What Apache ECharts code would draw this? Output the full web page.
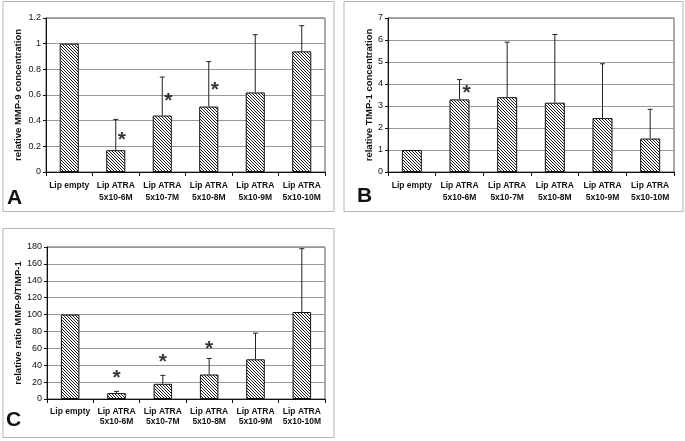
<!DOCTYPE html>
<html>
<head>
<meta charset="utf-8">
<script src="https://cdn.jsdelivr.net/npm/echarts@6/dist/echarts.min.js"></script>
<style>
html,body{margin:0;padding:0;background:#fff;}
#chart{width:685px;height:441px;}
</style>
</head>
<body>
<div id="chart"></div>
<script>
var categories = ['Lip empty', 'Lip ATRA\n5x10-6M', 'Lip ATRA\n5x10-7M', 'Lip ATRA\n5x10-8M', 'Lip ATRA\n5x10-9M', 'Lip ATRA\n5x10-10M'];
var mmp9 = [1.0, 0.17, 0.44, 0.51, 0.62, 0.94];
var mmp9ErrTop = [null, 0.41, 0.74, 0.86, 1.07, 1.14];
var mmp9Star = [null, 0.29, 0.59, 0.68, null, null];
var timp1 = [1.0, 3.3, 3.4, 3.15, 2.45, 1.52];
var timp1ErrTop = [null, 4.2, 5.9, 6.25, 4.92, 2.85];
var timp1Star = [null, 3.82, null, null, null, null];
var ratio = [100, 7, 18, 29, 47, 103];
var ratioErrTop = [null, 9, 28, 48, 78, 178];
var ratioStar = [null, 30, 49, 65, null, null];
var yTitles = ['relative MMP-9 concentration', 'relative TIMP-1 concentration', 'relative ratio MMP-9/TIMP-1'];
var panelLetters = ['A', 'B', 'C'];

var FONT = '"Liberation Sans", Arial, sans-serif';

// hatch pattern (diagonal "\" lines, 3px apart)
var pc = document.createElement('canvas');
pc.width = 6; pc.height = 6;
var g = pc.getContext('2d');
g.fillStyle = '#fff'; g.fillRect(0, 0, 6, 6);
g.strokeStyle = '#1a1a1a'; g.lineWidth = 1;
g.beginPath();
for (var k = -6; k <= 6; k += 3) { g.moveTo(k - 1, -1); g.lineTo(k + 7, 7); }
g.stroke();
var hatch = { image: pc, repeat: 'repeat' };

function errData(vals, tops) {
  var out = [];
  for (var i = 0; i < vals.length; i++) {
    if (tops[i] != null) out.push([i, vals[i], tops[i]]);
  }
  return out;
}
function starData(stars) {
  var out = [];
  for (var i = 0; i < stars.length; i++) {
    if (stars[i] != null) out.push([i, stars[i]]);
  }
  return out;
}
function renderErr(params, api) {
  var x = api.value(0), lo = api.value(1), hi = api.value(2);
  var p1 = api.coord([x, lo]), p2 = api.coord([x, hi]);
  var st = { stroke: '#222', lineWidth: 1 };
  return { type: 'group', children: [
    { type: 'line', shape: { x1: p1[0], y1: p1[1], x2: p2[0], y2: p2[1] }, style: st },
    { type: 'line', shape: { x1: p2[0] - 2.5, y1: p2[1], x2: p2[0] + 2.5, y2: p2[1] }, style: st }
  ]};
}

var grids = [
  { left: 46, top: 18, width: 279, height: 154 },
  { left: 388, top: 18, width: 286, height: 154 },
  { left: 47, top: 247, width: 278, height: 152 }
];
var yCfg = [
  { max: 1.2, interval: 0.2, gap: 23 },
  { max: 7, interval: 1, gap: 14 },
  { max: 180, interval: 20, gap: 24 }
];
var lineHeights = [12.5, 12.5, 10.5];
var barWidths = ['41%', '42%', '40%'];
var starOffsets = [6, 7, 0];
var values = [mmp9, timp1, ratio];
var tops = [mmp9ErrTop, timp1ErrTop, ratioErrTop];
var stars = [mmp9Star, timp1Star, ratioStar];

var option = {
  animation: false,
  backgroundColor: '#fff',
  grid: grids.map(function (gr) {
    return Object.assign({ show: true, borderColor: '#555', borderWidth: 1, backgroundColor: 'transparent' }, gr);
  }),
  xAxis: grids.map(function (gr, i) {
    return {
      type: 'category', gridIndex: i, data: categories,
      axisLine: { lineStyle: { color: '#111', width: 1 } },
      axisTick: { show: true, length: 4, lineStyle: { color: '#111' } },
      axisLabel: { interval: 0, fontFamily: FONT, fontSize: 8.5, fontWeight: 'bold', color: '#111', margin: 7, lineHeight: lineHeights[i] }
    };
  }),
  yAxis: grids.map(function (gr, i) {
    return {
      type: 'value', gridIndex: i, min: 0, max: yCfg[i].max, interval: yCfg[i].interval,
      name: yTitles[i], nameLocation: 'middle', nameRotate: 90, nameGap: yCfg[i].gap,
      nameTextStyle: { fontFamily: FONT, fontSize: 9.5, fontWeight: 'bold', color: '#111' },
      axisLine: { show: true, lineStyle: { color: '#111', width: 1 } },
      axisTick: { show: true, length: 3, lineStyle: { color: '#111' } },
      axisLabel: { fontFamily: FONT, fontSize: 9, color: '#111', margin: 5 },
      splitLine: { show: true, lineStyle: { color: '#999', width: 1 } }
    };
  }),
  series: [],
  graphic: [
    { type: 'rect', shape: { x: 3, y: 1.5, width: 331, height: 210 }, style: { fill: 'none', stroke: '#b5b5b5', lineWidth: 1 }, z: -1 },
    { type: 'rect', shape: { x: 344, y: 1.5, width: 339, height: 210 }, style: { fill: 'none', stroke: '#b5b5b5', lineWidth: 1 }, z: -1 },
    { type: 'rect', shape: { x: 3, y: 228.5, width: 331, height: 209 }, style: { fill: 'none', stroke: '#b5b5b5', lineWidth: 1 }, z: -1 },
    { type: 'text', left: 7, top: 188, style: { text: panelLetters[0], font: 'bold 21px ' + FONT, fill: '#111' } },
    { type: 'text', left: 357, top: 186, style: { text: panelLetters[1], font: 'bold 21px ' + FONT, fill: '#111' } },
    { type: 'text', left: 6, top: 410, style: { text: panelLetters[2], font: 'bold 21px ' + FONT, fill: '#111' } }
  ]
};

for (var i = 0; i < 3; i++) {
  option.series.push({
    type: 'bar', xAxisIndex: i, yAxisIndex: i, data: values[i], barWidth: barWidths[i],
    itemStyle: { color: hatch, borderColor: '#111', borderWidth: 1 }, z: 2
  });
  option.series.push({
    type: 'custom', xAxisIndex: i, yAxisIndex: i, data: errData(values[i], tops[i]),
    renderItem: renderErr, z: 3, silent: true
  });
  option.series.push({
    type: 'scatter', xAxisIndex: i, yAxisIndex: i, data: starData(stars[i]), symbolSize: 1,
    itemStyle: { color: 'rgba(0,0,0,0)' }, z: 4, silent: true,
    label: { show: true, position: 'inside', formatter: '*', fontFamily: FONT, fontSize: 21, fontWeight: 'bold', color: '#000', offset: [starOffsets[i], 5] }
  });
}

var chart = echarts.init(document.getElementById('chart'));
chart.setOption(option);
</script>
</body>
</html>
